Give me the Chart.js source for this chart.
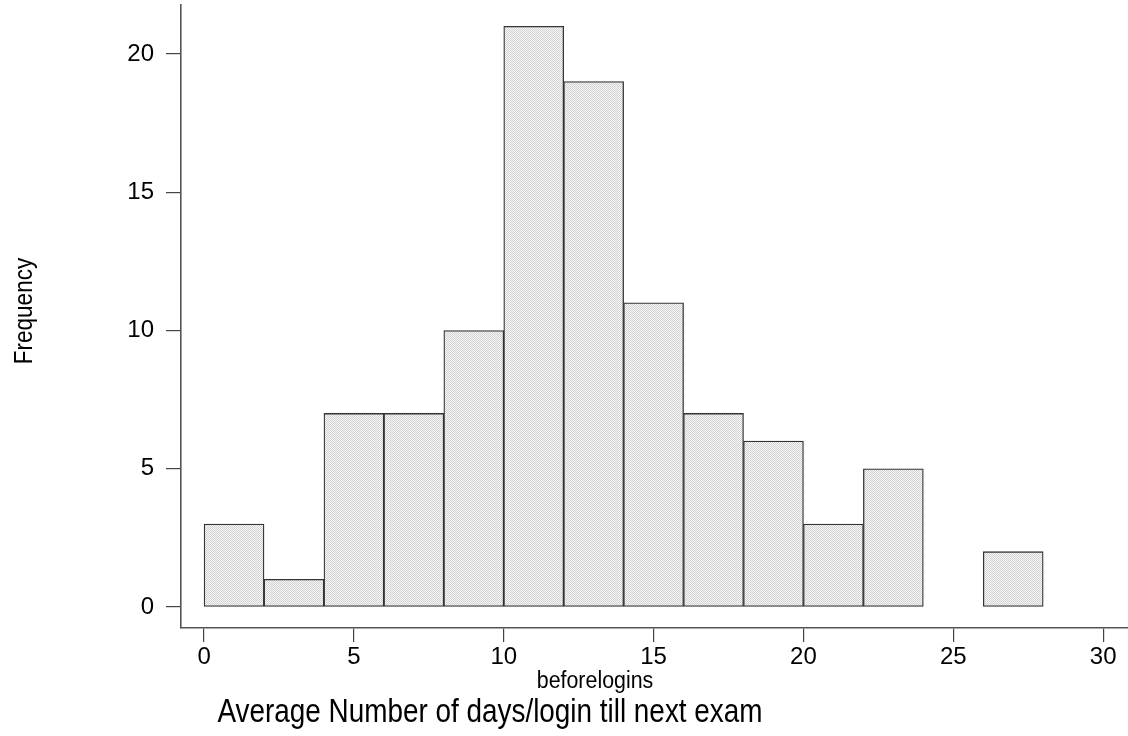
<!DOCTYPE html>
<html>
<head>
<meta charset="utf-8">
<script src="https://cdn.jsdelivr.net/npm/chart.js@4"></script>
<style>
  html, body { margin: 0; padding: 0; background: #fff; }
  #wrap { width: 1128px; height: 736px; position: relative; }
</style>
</head>
<body>
<div id="wrap"><canvas id="myChart"></canvas></div>
<script>
// histogram bins (midpoints, width 2) and counts
const binCenters = [1, 3, 5, 7, 9, 11, 13, 15, 17, 19, 21, 23, 25, 27]
const counts = [3, 1, 7, 7, 10, 21, 19, 11, 7, 6, 3, 5, null, 2]
const xTickValues = [0, 5, 10, 15, 20, 25, 30]
const yTickValues = [0, 5, 10, 15, 20]
const xAxisTitle = 'beforelogins'
const yAxisTitle = 'Frequency'
const caption = 'Average Number of days/login till next exam'

const FONT = '"Liberation Sans", Arial, sans-serif'

/**
 * Builds the small dotted gray fill used inside the bars.
 */
function makePattern () {
  const c = document.createElement('canvas')
  c.width = 2
  c.height = 2
  const g = c.getContext('2d')
  g.fillStyle = '#f7f7f7'
  g.fillRect(0, 0, 2, 2)
  g.fillStyle = '#d2d2d2'
  g.fillRect(0, 0, 1, 1)
  g.fillRect(1, 1, 1, 1)
  return g.createPattern(c, 'repeat')
}

/**
 * Draws a (possibly condensed / rotated) label on the canvas.
 */
function drawText (ctx, text, x, y, size, sx, rot) {
  ctx.save()
  ctx.translate(x, y)
  if (rot) ctx.rotate(rot)
  ctx.scale(sx, 1)
  ctx.font = size + 'px ' + FONT
  ctx.fillStyle = '#000'
  ctx.textAlign = 'center'
  ctx.textBaseline = 'alphabetic'
  ctx.fillText(text, 0, 0)
  ctx.restore()
}

const labelsPlugin = {
  id: 'labels',
  afterDraw (chart) {
    const ctx = chart.ctx
    drawText(ctx, xAxisTitle, 595, 688, 23, 0.93, 0)
    drawText(ctx, caption, 490, 722, 34, 0.82, 0)
    drawText(ctx, yAxisTitle, 32, 311, 25, 0.9, -Math.PI / 2)
  }
}

const data = binCenters.map((x, i) => ({ x, y: counts[i] }))

const ctx = document.getElementById('myChart').getContext('2d')
const myBarChart = new Chart(ctx, {
  type: 'bar',
  data: {
    datasets: [{
      label: yAxisTitle,
      data,
      backgroundColor: makePattern(),
      borderColor: '#333',
      borderWidth: 1.3,
      borderSkipped: false,
      barPercentage: 1,
      categoryPercentage: 1
    }]
  },
  options: {
    responsive: true,
    maintainAspectRatio: false,
    animation: false,
    layout: { padding: { top: 5, right: 0, left: 0, bottom: 0 } },
    plugins: {
      legend: { display: false },
      tooltip: { enabled: false }
    },
    scales: {
      x: {
        type: 'linear',
        offset: false,
        min: -0.77,
        max: 30.83,
        afterBuildTicks: (scale) => { scale.ticks = xTickValues.map(v => ({ value: v })) },
        afterFit: (scale) => {
          scale.height = 108
          scale.paddingLeft = 0
          scale.paddingRight = 0
        },
        grid: { display: true, offset: false, drawOnChartArea: false, drawTicks: true, tickLength: 14, color: '#444', lineWidth: 1.2 },
        border: { display: true, color: '#555', width: 1.6 },
        ticks: { color: '#000', font: { family: FONT, size: 24 }, padding: 1, maxRotation: 0, autoSkip: false }
      },
      y: {
        min: -0.76,
        max: 21.77,
        afterBuildTicks: (scale) => { scale.ticks = yTickValues.map(v => ({ value: v })) },
        afterFit: (scale) => {
          scale.width = 181
          scale.paddingTop = 0
          scale.paddingBottom = 0
        },
        grid: { display: true, drawOnChartArea: false, drawTicks: true, tickLength: 15, color: '#444', lineWidth: 1.2 },
        border: { display: true, color: '#555', width: 1.6 },
        ticks: { color: '#000', font: { family: FONT, size: 24 }, padding: 12, autoSkip: false }
      }
    }
  },
  plugins: [labelsPlugin]
})
</script>
</body>
</html>
